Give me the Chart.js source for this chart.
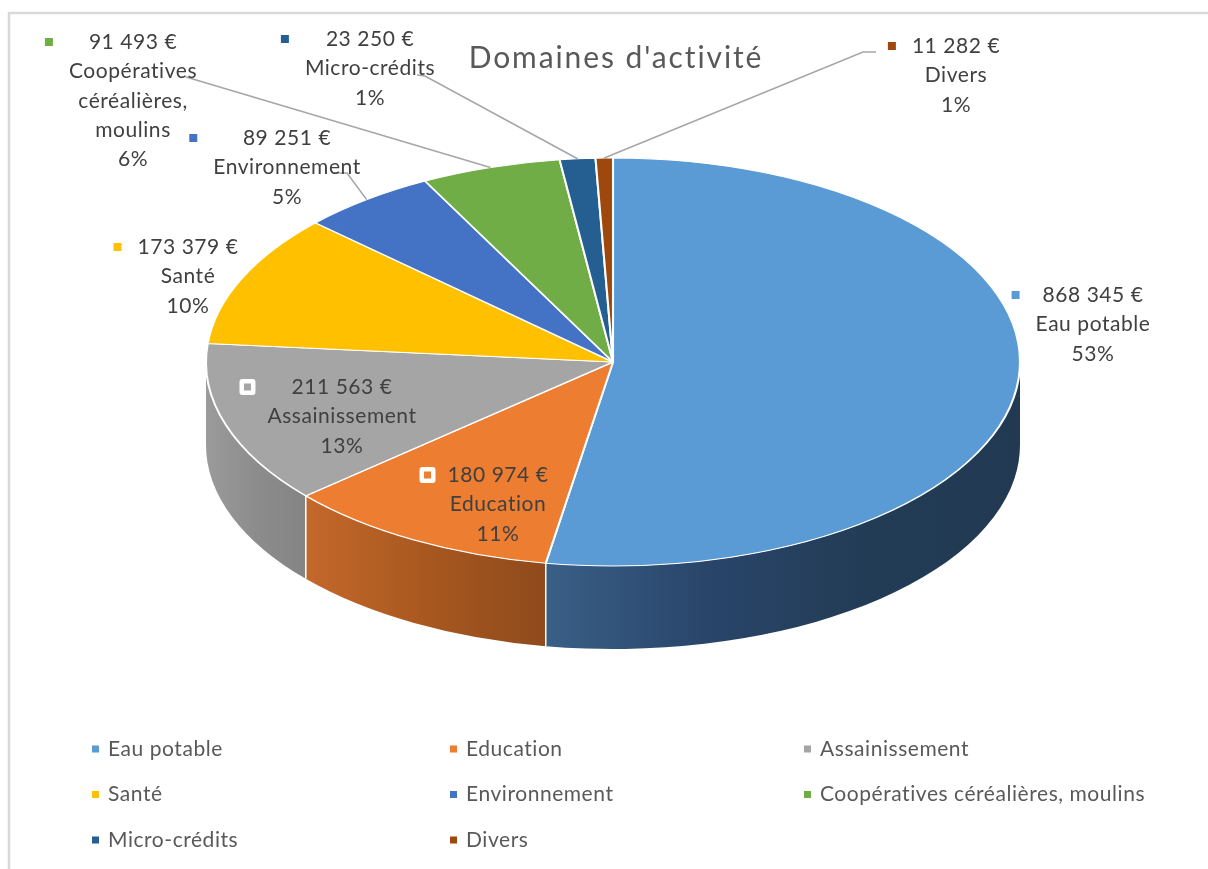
<!DOCTYPE html>
<html>
<head>
<meta charset="utf-8">
<script src="https://cdn.jsdelivr.net/npm/chart.js@4.4.0/dist/chart.umd.min.js"></script>
<style>
html,body{margin:0;padding:0;background:#fff;}
#wrap{width:1208px;height:869px;position:relative;}
</style>
</head>
<body>
<div id="wrap"><canvas id="c" width="1208" height="869"></canvas></div>
<script>
// ---- data ----
const categories = ['Eau potable','Education','Assainissement','Santé','Environnement','Coopératives céréalières, moulins','Micro-crédits','Divers'];
const labelNames = ['Eau potable','Education','Assainissement','Santé','Environnement','Coopératives\ncéréalières,\nmoulins','Micro-crédits','Divers'];
const amounts = [868345,180974,211563,173379,89251,91493,23250,11282];
const percentLabels = ['53%','11%','13%','10%','5%','6%','1%','1%'];
const colors = ['#5B9BD5','#ED7D31','#A5A5A5','#FFC000','#4472C4','#70AD47','#255E91','#9E480E'];
const sideColors = [
  ['#3a5f87','#29456a','#233c56','#213951'],
  ['#c4682c','#a8581f','#8f4a1d'],
  ['#9b9b9b','#8c8c8c','#848484'],
  ['#b38600','#8f6b00'],
  ['#30508a','#26406e'],
  ['#4f7a32','#3f6128'],
  ['#1a4266','#153552'],
  ['#6f320a','#582808']
];
const chartTitle = "Domaines d'activité";

function fmtEuro(v){
  return String(v).replace(/\B(?=(\d{3})+(?!\d))/g,' ') + ' €';
}

// ---- layout (not data) ----
const GEOM = {cx:613, cy:362, rx:407, ry:204, depth:83};
const LABEL_LAYOUT = [
  {x:1093, y:295, boxed:false},
  {x:498, y:475, boxed:true},
  {x:342, y:387, boxed:true},
  {x:188, y:247, boxed:false},
  {x:287, y:138, boxed:false, leader:[[334,173],[347,173]]},
  {x:133, y:42, boxed:false, leader:[[186,77]]},
  {x:370, y:39, boxed:false, leader:[[417,75],[425,76]]},
  {x:956, y:46, boxed:false, leader:[[876,52],[863,52]]}
];
const LEGEND_LAYOUT = {cols:[108,466,820], rows:[749,794.5,840], markerOffset:12.5};
const FONT = 'Lato, "Open Sans", sans-serif';
const LABEL_SIZE = 21;
const LETTER_SP = '0.55px';

const titleSpacing = {
  id:'titleSpacing',
  beforeDraw(chart){ chart.ctx.letterSpacing = '1.9px'; },
  beforeDatasetsDraw(chart){ chart.ctx.letterSpacing = '0px'; }
};

const pie3d = {
  id:'pie3d',
  beforeDatasetsDraw(chart){
    const ctx = chart.ctx;
    const meta = chart.getDatasetMeta(0);
    const {cx,cy,rx,ry,depth} = GEOM;
    const bounds = [];
    meta.data.forEach((arc,i)=>{
      const a1 = Math.max(arc.startAngle,0), a2 = Math.min(arc.endAngle,Math.PI);
      if (arc.startAngle > 0 && arc.startAngle < Math.PI) bounds.push(arc.startAngle);
      if (a2 <= a1) return;
      const xa = cx + rx*Math.cos(a1), xb = cx + rx*Math.cos(a2);
      const xl = Math.min(xa,xb), xr = Math.max(xa,xb);
      const g = ctx.createLinearGradient(xl,0,xr,0);
      const st = sideColors[i];
      st.forEach((c,k)=>g.addColorStop(k/(st.length-1),c));
      ctx.save();
      ctx.beginPath();
      ctx.ellipse(cx,cy,rx,ry,0,a1,a2,false);
      ctx.ellipse(cx,cy+depth,rx,ry,0,a2,a1,true);
      ctx.closePath();
      ctx.fillStyle = g;
      ctx.fill();
      ctx.restore();
    });
    ctx.save();
    ctx.strokeStyle = '#ffffff';
    ctx.lineWidth = 1.5;
    bounds.forEach(a=>{
      const x = cx + rx*Math.cos(a), y = cy + ry*Math.sin(a);
      ctx.beginPath(); ctx.moveTo(x,y); ctx.lineTo(x,y+depth); ctx.stroke();
    });
    ctx.restore();
    const a0 = meta.data[0];
    const R = a0.outerRadius;
    ctx.save();
    ctx.translate(cx,cy);
    ctx.scale(rx/R, ry/R);
    ctx.translate(-a0.x,-a0.y);
  },
  afterDatasetsDraw(chart){
    chart.ctx.restore();
  }
};

const labelsPlugin = {
  id:'pieLabels',
  afterDraw(chart){
    const ctx = chart.ctx;
    const meta = chart.getDatasetMeta(0);
    const {cx,cy,rx,ry} = GEOM;
    const lh = 29.4;
    ctx.save();
    ctx.strokeStyle = '#d9d9d9';
    ctx.lineWidth = 2.5;
    ctx.strokeRect(9,13,1220,880);
    ctx.strokeStyle = '#a6a6a6';
    ctx.lineWidth = 1.6;
    meta.data.forEach((arc,i)=>{
      const L = LABEL_LAYOUT[i];
      if (!L.leader) return;
      const mid = (arc.startAngle+arc.endAngle)/2;
      const ex = cx + rx*Math.cos(mid), ey = cy + ry*Math.sin(mid);
      ctx.beginPath();
      ctx.moveTo(L.leader[0][0],L.leader[0][1]);
      for (let k=1;k<L.leader.length;k++) ctx.lineTo(L.leader[k][0],L.leader[k][1]);
      ctx.lineTo(ex,ey);
      ctx.stroke();
    });
    ctx.font = LABEL_SIZE + 'px ' + FONT;
    ctx.letterSpacing = LETTER_SP;
    ctx.textAlign = 'center';
    ctx.textBaseline = 'middle';
    categories.forEach((c,i)=>{
      const L = LABEL_LAYOUT[i];
      const lines = [fmtEuro(amounts[i])].concat(labelNames[i].split('\n')).concat([percentLabels[i]]);
      const w = Math.max(...lines.map(t=>ctx.measureText(t).width));
      const left = L.x - w/2;
      const mx = left - 20, my = L.y;
      if (L.boxed){
        ctx.fillStyle = '#ffffff';
        ctx.beginPath();
        if (ctx.roundRect) ctx.roundRect(mx-8,my-8,16,16,3); else ctx.rect(mx-8,my-8,16,16);
        ctx.fill();
        ctx.fillStyle = colors[i];
        ctx.fillRect(mx-3.5,my-3.5,7,7);
      } else {
        ctx.fillStyle = colors[i];
        ctx.fillRect(mx-4,my-4,8,8);
      }
      ctx.fillStyle = '#404040';
      lines.forEach((t,k)=>ctx.fillText(t,L.x,L.y+k*lh));
    });
    ctx.textAlign = 'left';
    categories.forEach((c,i)=>{
      const col = i%3, row = Math.floor(i/3);
      const tx = LEGEND_LAYOUT.cols[col], ty = LEGEND_LAYOUT.rows[row];
      ctx.fillStyle = colors[i];
      ctx.fillRect(tx-LEGEND_LAYOUT.markerOffset-3.5, ty-3.5, 7, 7);
      ctx.fillStyle = '#595959';
      ctx.fillText(c, tx, ty);
    });
    ctx.letterSpacing = '0px';
    ctx.restore();
  }
};

new Chart(document.getElementById('c'), {
  type:'pie',
  data:{
    labels: categories,
    datasets:[{
      data: amounts,
      backgroundColor: colors,
      borderColor:'#ffffff',
      borderWidth:2,
      clip:false
    }]
  },
  options:{
    responsive:false,
    animation:false,
    events:[],
    rotation:0,
    layout:{padding:{left:24,right:0,top:0,bottom:10}},
    plugins:{
      legend:{display:false},
      tooltip:{enabled:false},
      title:{
        display:true,
        text: chartTitle,
        color:'#595959',
        font:{family:'Lato', size:30, weight:'normal'},
        padding:{top:40,bottom:0}
      }
    }
  },
  plugins:[titleSpacing, pie3d, labelsPlugin]
});
</script>
</body>
</html>
